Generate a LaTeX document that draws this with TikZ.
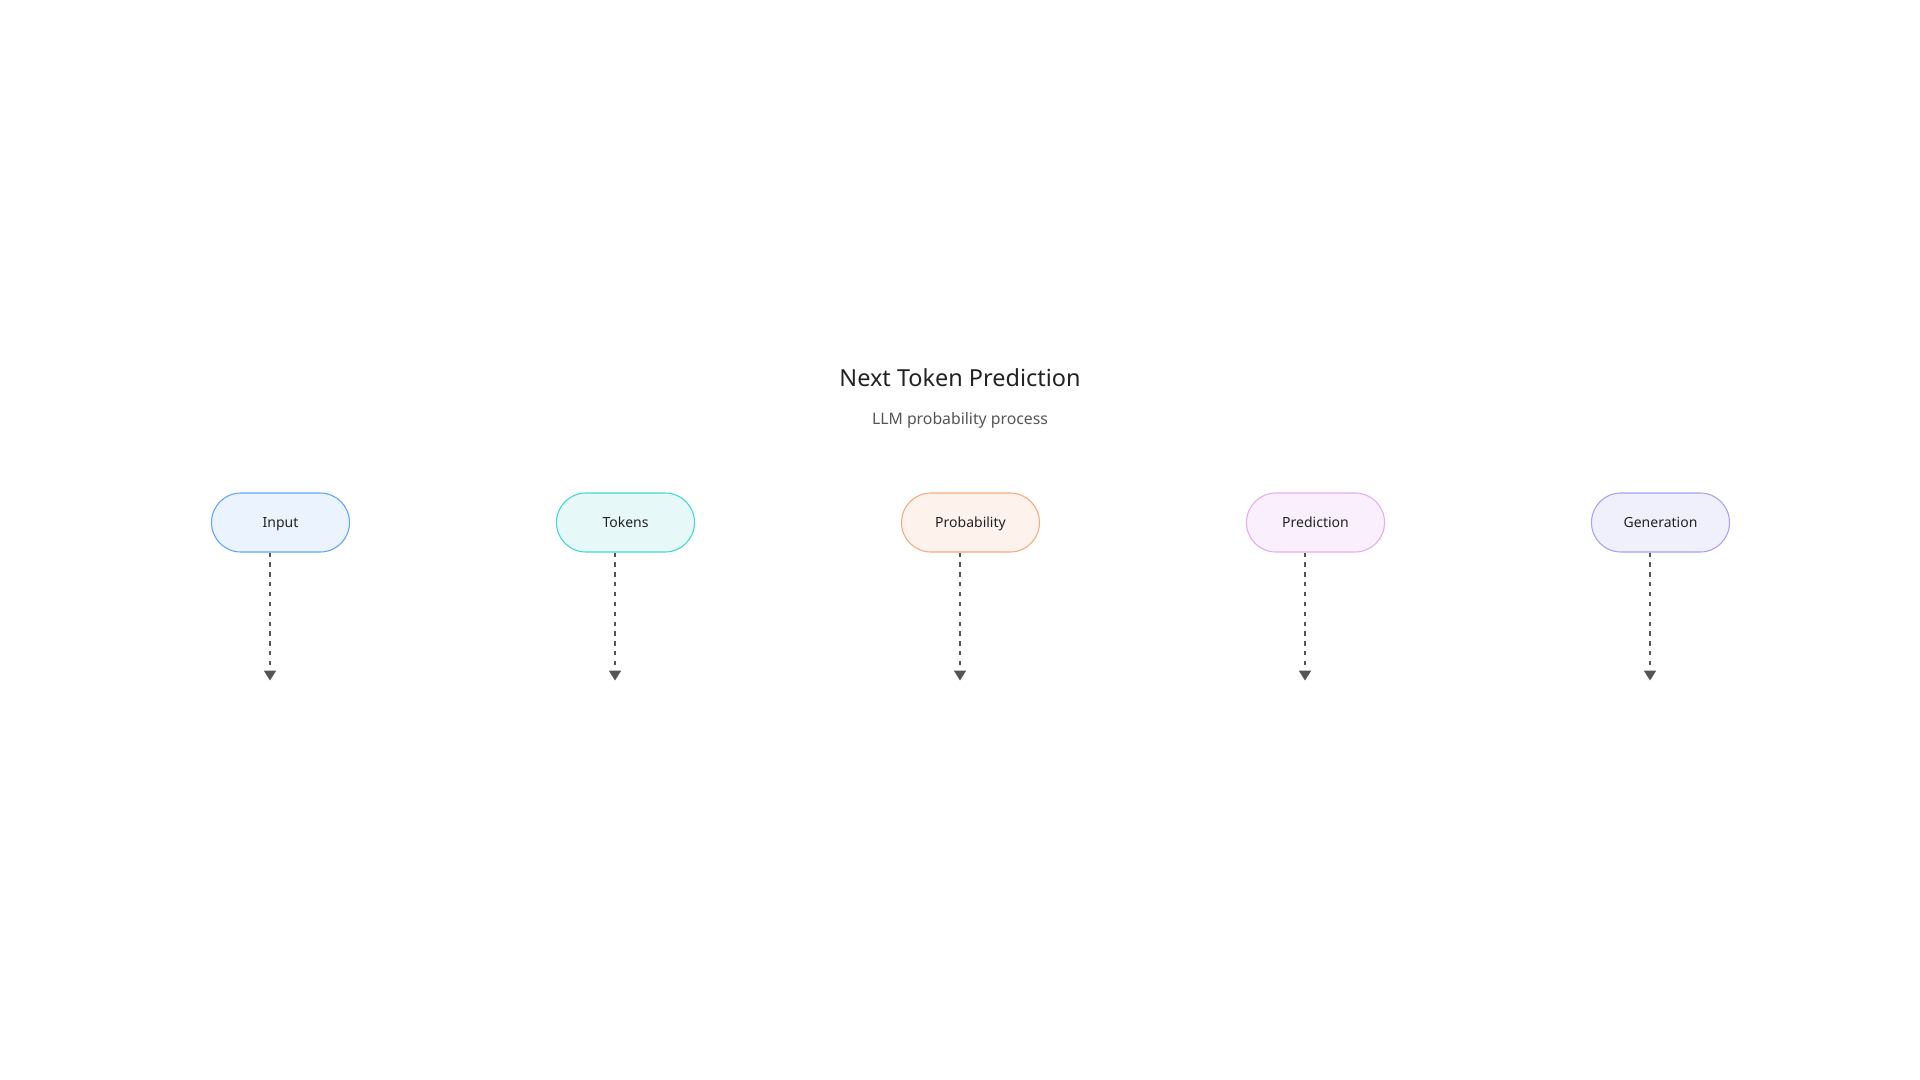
\documentclass[tikz,border=0pt]{standalone}
\usepackage{fontspec}
\setmainfont{Noto Sans}
\usetikzlibrary{arrows.meta,positioning,calc}
\definecolor{InkDark}{RGB}{34,34,34}
\definecolor{InkGray}{RGB}{85,85,85}
\definecolor{LineGray}{RGB}{85,85,85}
\definecolor{BlueLine}{RGB}{96,165,250}
\definecolor{BlueSoft}{RGB}{235,243,254}
\definecolor{TealLine}{RGB}{64,216,208}
\definecolor{TealSoft}{RGB}{230,249,248}
\definecolor{PeachLine}{RGB}{247,168,128}
\definecolor{PeachSoft}{RGB}{253,243,236}
\definecolor{OrchidLine}{RGB}{230,170,244}
\definecolor{OrchidSoft}{RGB}{250,240,253}
\definecolor{IndigoLine}{RGB}{165,160,248}
\definecolor{IndigoSoft}{RGB}{240,240,253}
\tikzset{
  stage/.style={draw,line width=0.8pt,rounded corners=22pt,minimum width=103.5pt,
    minimum height=44.25pt,inner sep=0pt,align=center,font=\fontsize{10.5}{12}\selectfont,
    text=InkDark,text height=9.4pt,text depth=2.2pt},
  headline/.style={font=\fontsize{17.6}{20}\selectfont,text=InkDark},
  subline/.style={font=\fontsize{11.85}{14}\selectfont,text=InkGray},
  flow/.style={-{Triangle[length=7.5pt,width=9pt]},line width=1.4pt,LineGray,
    dash pattern=on 3.2pt off 4.2pt}
}

\begin{document}
\begin{tikzpicture}[
  x=0.75pt,
  y=-0.75pt,
  node distance=154.45pt
]
\useasboundingbox (0,0) rectangle (1920,1080);

\node[headline] (title) at (960,377.5) {Next Token Prediction};
\node[subline] (sub) at (960,420) {LLM probability process};

\node[stage,draw=BlueLine,fill=BlueSoft] (input) at (280.5,522.5) {Input};
\node[stage,draw=TealLine,fill=TealSoft,right=of input] (tokens) {Tokens};
\node[stage,draw=PeachLine,fill=PeachSoft,right=of tokens] (prob) {Probability};
\node[stage,draw=OrchidLine,fill=OrchidSoft,right=of prob] (pred) {Prediction};
\node[stage,draw=IndigoLine,fill=IndigoSoft,right=of pred] (gen) {Generation};

% dashed drops under each stage
\foreach \s in {input,tokens,prob,pred,gen}{
  \coordinate (\s-end) at ($(\s.south)+(-10.5,128)$);
  \draw[flow] (\s.south -| \s-end) -- (\s-end);
}

\end{tikzpicture}
\end{document}
